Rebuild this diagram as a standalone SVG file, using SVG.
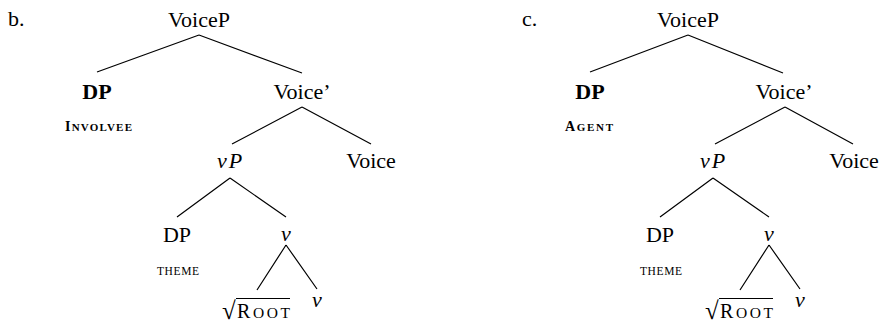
<svg xmlns="http://www.w3.org/2000/svg" width="881" height="324" viewBox="0 0 881 324" font-family="'Liberation Serif', 'Times New Roman', 'DejaVu Serif', serif">
<style>
text{font-family:'Liberation Serif','Times New Roman','DejaVu Serif',serif;fill:#000;font-size:22px}
.c{text-anchor:middle}
.b{font-weight:bold}
.i{font-style:italic}
.sc{font-size:11.5px}
.rad{font-size:25px}
.edge{stroke:#000;stroke-width:1.2;fill:none}
</style>
<text x="8" y="26">b.</text>
<text x="522" y="26">c.</text>
<g id="connectors">
<path class="edge" d="M199 35L97 72M199 35L302 73M302 107L232 144M302 107L371 144M230 178L177 217M230 178L286 217M286 245L257 290M286 245L317 289"/>
<path class="edge" d="M688 35L590 72M688 35L783 73M785 107L715 144M785 107L853 144M713 178L660 217M713 178L769 217M769 245L740 290M769 245L800 289"/>
</g>
<g id="b-voicep"><text class="c" x="199" y="27">VoiceP</text></g>
<g id="b-dp"><text class="c b" x="97" y="99">DP</text>
<text class="b" x="65" y="131" textLength="67" lengthAdjust="spacing"><tspan font-size="14">I</tspan><tspan font-size="11">NVOLVEE</tspan></text></g>
<g id="b-voicebar"><text class="c" x="302" y="99">Voice’</text></g>
<g id="b-vp"><text class="i" x="217" y="168">v<tspan dx="2">P</tspan></text></g>
<g id="b-voice"><text class="c" x="371" y="168">Voice</text></g>
<g id="b-dp2"><text class="c" x="177" y="242">DP</text>
<text class="sc" x="157" y="275" textLength="42" lengthAdjust="spacing">THEME</text></g>
<g id="b-v"><text class="c i" x="286" y="241">v</text></g>
<g id="b-root"><text class="rad" x="222" y="319">√</text><line class="edge" x1="236" y1="298.5" x2="290" y2="298.5"/>
<text x="237" y="318" textLength="53" lengthAdjust="spacing"><tspan font-size="20">R</tspan><tspan font-size="15.5">OOT</tspan></text></g>
<g id="b-v2"><text class="c i" x="317" y="307">v</text></g>

<g id="c-voicep"><text class="c" x="688" y="27">VoiceP</text></g>
<g id="c-dp"><text class="c b" x="590" y="99">DP</text>
<text class="b" x="565" y="131" textLength="48" lengthAdjust="spacing"><tspan font-size="14">A</tspan><tspan font-size="11">GENT</tspan></text></g>
<g id="c-voicebar"><text class="c" x="784" y="99">Voice’</text></g>
<g id="c-vp"><text class="i" x="700" y="168">v<tspan dx="2">P</tspan></text></g>
<g id="c-voice"><text class="c" x="854" y="168">Voice</text></g>
<g id="c-dp2"><text class="c" x="660" y="242">DP</text>
<text class="sc" x="640" y="275" textLength="42" lengthAdjust="spacing">THEME</text></g>
<g id="c-v"><text class="c i" x="769" y="241">v</text></g>
<g id="c-root"><text class="rad" x="705" y="319">√</text><line class="edge" x1="719" y1="298.5" x2="773" y2="298.5"/>
<text x="720" y="318" textLength="53" lengthAdjust="spacing"><tspan font-size="20">R</tspan><tspan font-size="15.5">OOT</tspan></text></g>
<g id="c-v2"><text class="c i" x="800" y="307">v</text></g>
</svg>
